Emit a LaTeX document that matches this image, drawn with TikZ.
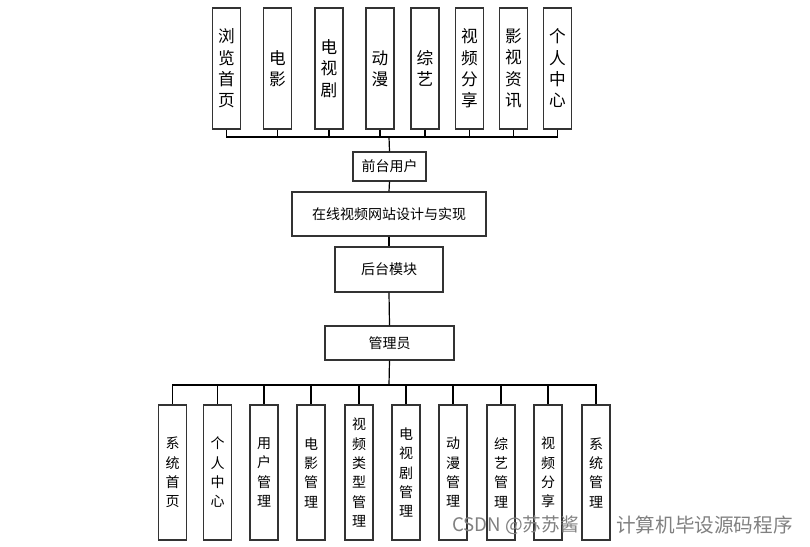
\documentclass[tikz,border=0pt]{standalone}
\usepackage{fontspec}
\setmainfont{Noto Sans CJK SC}
\begin{document}
\begin{tikzpicture}[x=0.75pt,y=-0.75pt,
  boxline/.style={draw=black!80,line width=0.9pt,fill=white,inner sep=0pt,align=center},
  topbox/.style={boxline,minimum width=21pt,minimum height=90.75pt,font=\fontsize{12.5}{16}\selectfont},
  botbox/.style={boxline,minimum width=21pt,minimum height=101.25pt,font=\fontsize{10.5}{14.5}\selectfont},
  midbox/.style={boxline,font=\fontsize{10.5}{12}\selectfont},
  conn/.style={draw=black,line width=0.9pt},
  wm/.style={text=black!50,inner sep=0pt,anchor=west}]
\useasboundingbox (0,0) rectangle (810,546);
% top boxes
\node[topbox] (t1) at (226.5,68.5) {浏\\览\\首\\页};
\node[topbox] (t2) at (277.5,68.5) {电\\影};
\node[topbox] (t3) at (329,68.5) {电\\视\\剧};
\node[topbox] (t4) at (380,68.5) {动\\漫};
\node[topbox] (t5) at (425,68.5) {综\\艺};
\node[topbox] (t6) at (469.5,68.5) {视\\频\\分\\享};
\node[topbox] (t7) at (513.5,68.5) {影\\视\\资\\讯};
\node[topbox] (t8) at (557.5,68.5) {个\\人\\中\\心};
% middle boxes
\node[midbox,minimum width=54.75pt,minimum height=21.75pt] (qt) at (389.5,166.5) {前台用户};
\node[midbox,minimum width=145.5pt,minimum height=33pt] (zx) at (389,214) {在线视频网站设计与实现};
\node[midbox,minimum width=81pt,minimum height=33.75pt] (ht) at (389,269.5) {后台模块};
\node[midbox,minimum width=96.75pt,minimum height=25.5pt] (gly) at (389.5,343) {管理员};
% bottom boxes
\node[botbox] (b1) at (172.5,472.5) {系\\统\\首\\页};
\node[botbox] (b2) at (217.5,472.5) {个\\人\\中\\心};
\node[botbox] (b3) at (264,472.5) {用\\户\\管\\理};
\node[botbox] (b4) at (311,472.5) {电\\影\\管\\理};
\node[botbox] (b5) at (359,472.5) {视\\频\\类\\型\\管\\理};
\node[botbox] (b6) at (406,472.5) {电\\视\\剧\\管\\理};
\node[botbox] (b7) at (453,472.5) {动\\漫\\管\\理};
\node[botbox] (b8) at (501,472.5) {综\\艺\\管\\理};
\node[botbox] (b9) at (548,472.5) {视\\频\\分\\享};
\node[botbox] (b10) at (596,472.5) {系\\统\\管\\理};
% connectors
\coordinate (topbus) at (389,137);
\coordinate (botbus) at (389,385);
\foreach \n in {t1,t2,t3,t4,t5,t6,t7,t8}{\draw[conn] (\n.south) |- (topbus);}
\draw[conn] (topbus) -- (qt.north);
\draw[conn] (qt.south) -- (zx.north);
\draw[conn] (zx.south) -- (ht.north);
\draw[conn] (ht.south) -- (gly.north);
\draw[conn] (gly.south) -- (botbus);
\foreach \n in {b1,b2,b3,b4,b5,b6,b7,b8,b9,b10}{\draw[conn] (botbus) -| (\n.north);}
% watermark
\node[wm,font=\fontsize{14}{16}\selectfont] (wm1) at (452,525) {CSDN @苏苏酱};
\node[wm,font=\fontsize{14.7}{16}\selectfont] (wm2) at (616,525) {计算机毕设源码程序};
\end{tikzpicture}
\end{document}
